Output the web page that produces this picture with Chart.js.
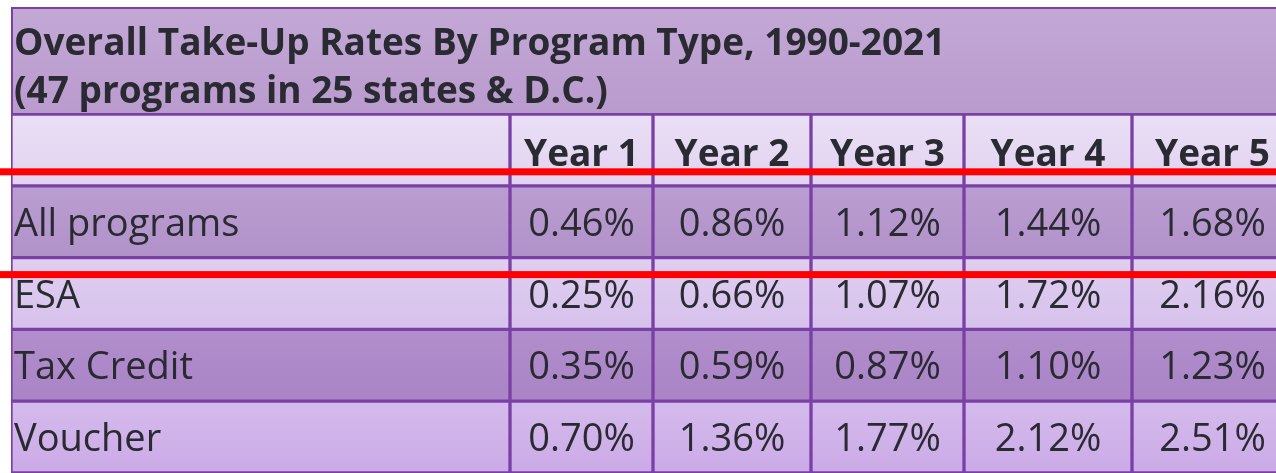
<!DOCTYPE html>
<html>
<head>
<meta charset="utf-8">
<script src="https://cdn.jsdelivr.net/npm/chart.js@4.4.0/dist/chart.umd.min.js"></script>
<style>
    body { margin: 0; background: #ffffff; }
    #wrap { width: 1276px; height: 473px; position: relative; }
</style>
</head>
<body>
<div id="wrap"><canvas id="takeUpTable"></canvas></div>
<script>
// Data tabel
const titleLines = ['Overall Take-Up Rates By Program Type, 1990-2021', '(47 programs in 25 states & D.C.)'];
const yearLabels = ['Year 1', 'Year 2', 'Year 3', 'Year 4', 'Year 5'];
const programs = ['All programs', 'ESA', 'Tax Credit', 'Voucher'];
const allPrograms = [0.46, 0.86, 1.12, 1.44, 1.68];
const esa = [0.25, 0.66, 1.07, 1.72, 2.16];
const taxCredit = [0.35, 0.59, 0.87, 1.10, 1.23];
const voucher = [0.70, 1.36, 1.77, 2.12, 2.51];
const rateRows = [allPrograms, esa, taxCredit, voucher];

// Layout kolom (lebar relatif), kolom pertama = nama program
const colWidths = [499, 143, 158, 153, 168, 161];
const rowKeys = ['header'].concat(programs);

// Warna baris: [atas, bawah]
const rowColors = [
    ['#eadff6', '#e2d3f0'],
    ['#ba9dd1', '#b192c9'],
    ['#e0cff1', '#d6c1eb'],
    ['#b18ecc', '#aa84c6'],
    ['#d5bbed', '#cbaae6']
];
const borderPurple = '#7a40a6';
const textDark = '#2a2a32';

// Bangun dataset: satu dataset per kolom, bar mengambang per baris
const colEdges = [0];
colWidths.forEach(w => colEdges.push(colEdges[colEdges.length - 1] + w));

const datasets = colWidths.map((w, c) => ({
    label: c === 0 ? 'Program' : yearLabels[c - 1],
    data: rowKeys.map(() => [colEdges[c], colEdges[c + 1]]),
    backgroundColor: function(ctx) {
        const chart = ctx.chart;
        const yScale = chart.scales.y;
        const colors = rowColors[ctx.dataIndex] || rowColors[0];
        if (!chart.chartArea || !yScale) return colors[0];
        const mid = yScale.getPixelForValue(ctx.dataIndex);
        const half = (chart.chartArea.bottom - chart.chartArea.top) / rowKeys.length / 2;
        const g = chart.ctx.createLinearGradient(0, mid - half, 0, mid + half);
        g.addColorStop(0, colors[0]);
        g.addColorStop(1, colors[1]);
        return g;
    },
    borderColor: borderPurple,
    borderWidth: 2,
    borderSkipped: false,
    grouped: false,
    categoryPercentage: 1,
    barPercentage: 1
}));

// Plugin untuk judul, teks sel dan garis merah
const tablePlugin = {
    id: 'tablePlugin',
    beforeDatasetsDraw(chart) {
        const ctx = chart.ctx;
        const area = chart.chartArea;
        const top = 7;
        ctx.save();
        const g = ctx.createLinearGradient(0, top, 0, area.top);
        g.addColorStop(0, '#c3a8d6');
        g.addColorStop(1, '#b99bcd');
        ctx.fillStyle = g;
        ctx.fillRect(area.left, top, chart.width - area.left + 10, area.top - top);
        ctx.strokeStyle = borderPurple;
        ctx.lineWidth = 2;
        ctx.strokeRect(area.left + 1, top + 1, chart.width - area.left + 10, area.top - top - 1);
        ctx.fillStyle = textDark;
        ctx.font = 'bold 37px "Open Sans"';
        ctx.textAlign = 'left';
        ctx.textBaseline = 'alphabetic';
        ctx.fillText(titleLines[0], area.left + 3, top + 48);
        ctx.fillText(titleLines[1], area.left + 3, top + 96);
        ctx.restore();
    },
    afterDatasetsDraw(chart) {
        const ctx = chart.ctx;
        const area = chart.chartArea;
        const rowH = (area.bottom - area.top) / rowKeys.length;
        ctx.save();
        ctx.fillStyle = textDark;
        chart.data.datasets.forEach((ds, c) => {
            const meta = chart.getDatasetMeta(c);
            meta.data.forEach((bar, r) => {
                const left = Math.min(bar.x, bar.base);
                const right = Math.max(bar.x, bar.base);
                const center = (left + right) / 2;
                if (r === 0) {
                    if (c === 0) return;
                    ctx.font = 'bold 37px "Open Sans"';
                    ctx.textAlign = 'center';
                    ctx.fillText(yearLabels[c - 1], center, bar.y + rowH / 2 - 20);
                } else if (c === 0) {
                    ctx.font = '38px "Open Sans"';
                    ctx.textAlign = 'left';
                    ctx.fillText(programs[r - 1], left + 3, bar.y + 14);
                } else {
                    ctx.font = '38px "Open Sans"';
                    ctx.textAlign = 'center';
                    ctx.fillText(rateRows[r - 1][c - 1].toFixed(2) + '%', center, bar.y + 14);
                }
            });
        });
        // Garis merah yang menyorot baris "All programs"
        const yScale = chart.scales.y;
        const allMid = yScale.getPixelForValue(1);
        ctx.fillStyle = '#ff0000';
        ctx.fillRect(0, allMid - rowH / 2 - 17.5, chart.width, 7);
        ctx.fillRect(0, allMid + rowH / 2 + 13.5, chart.width, 7);
        ctx.restore();
    }
};

const ctxTable = document.getElementById('takeUpTable').getContext('2d');
new Chart(ctxTable, {
    type: 'bar',
    data: {
        labels: rowKeys,
        datasets: datasets
    },
    options: {
        indexAxis: 'y',
        responsive: true,
        maintainAspectRatio: false,
        animation: false,
        layout: {
            padding: { left: 11, top: 114, right: 0, bottom: 0 }
        },
        scales: {
            x: { type: 'linear', min: 0, max: 1265, display: false },
            y: { type: 'category', display: false }
        },
        plugins: {
            legend: { display: false },
            tooltip: { enabled: false }
        }
    },
    plugins: [tablePlugin]
});
</script>
</body>
</html>
